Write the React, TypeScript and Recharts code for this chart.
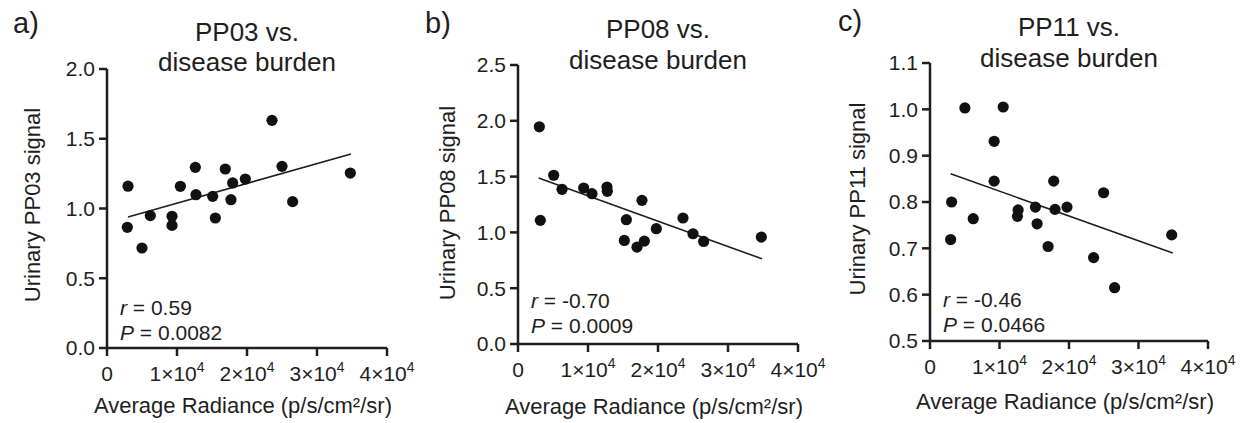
import React from "react";
import {
  ScatterChart,
  Scatter,
  XAxis,
  YAxis,
  ReferenceLine,
} from "recharts";

// radiance (p/s/cm²/sr) and urinary signal, one pair of arrays per panel
const radianceA = [3000, 2900, 5000, 6190, 9290, 9290, 10480, 12620, 12710, 15100, 15480, 16900, 17950, 17710, 19760, 23570, 25000, 26520, 34760];
const pp03 = [1.16, 0.865, 0.717, 0.949, 0.944, 0.879, 1.159, 1.295, 1.099, 1.087, 0.932, 1.283, 1.183, 1.063, 1.211, 1.632, 1.302, 1.049, 1.254];

const radianceB = [3050, 3190, 5100, 6290, 9380, 10570, 12710, 12760, 15190, 15480, 17000, 17710, 18050, 19760, 23570, 25000, 26520, 34760];
const pp08 = [1.946, 1.108, 1.512, 1.386, 1.398, 1.347, 1.407, 1.368, 0.928, 1.114, 0.868, 1.287, 0.922, 1.033, 1.129, 0.988, 0.919, 0.958];

const radianceC = [3110, 2970, 5020, 6220, 9230, 9230, 10530, 12680, 12580, 15170, 15410, 16990, 17800, 17990, 19710, 24980, 23540, 26560, 34780];
const pp11 = [0.8, 0.719, 1.003, 0.764, 0.931, 0.845, 1.005, 0.783, 0.769, 0.789, 0.753, 0.704, 0.845, 0.784, 0.789, 0.82, 0.68, 0.615, 0.729];

// regression line end points [x, y]
const fitA = [[3000, 0.939], [34860, 1.391]];
const fitB = [[2950, 1.488], [34860, 0.763]];
const fitC = [[2970, 0.861], [34930, 0.69]];

const xTicks = [0, 10000, 20000, 30000, 40000];
const yTicksA = [0, 0.5, 1.0, 1.5, 2.0];
const yTicksB = [0, 0.5, 1.0, 1.5, 2.0, 2.5];
const yTicksC = [0.5, 0.6, 0.7, 0.8, 0.9, 1.0, 1.1];

const FONT = "'Liberation Sans', Arial, Helvetica, sans-serif";
const INK = "#1e1e1e";

const XTick = ({ x, y, payload }: any) => {
  const v = payload.value;
  return (
    <text x={x} y={y} dy="0.71em" textAnchor="middle" fontSize={21} fill={INK} fontFamily={FONT}>
      {v === 0 ? (
        "0"
      ) : (
        <>
          {v / 10000}×10
          <tspan dy={-9} fontSize={14}>4</tspan>
        </>
      )}
    </text>
  );
};

const Dot = (props: any) => <circle cx={props.cx} cy={props.cy} r={5.6} fill="#111" />;

interface PanelProps {
  letter: string;
  title: string;
  yLabel: string;
  xs: number[];
  ys: number[];
  fit: number[][];
  yDomain: [number, number];
  yTicks: number[];
  r: string;
  p: string;
  plot: { l: number; r: number; t: number; b: number };
  letterPos: [number, number];
  titleY: [number, number];
  yLabelPos: [number, number];
  xLabelY: number;
  statY: [number, number];
}

function Panel(props: PanelProps) {
  const { plot } = props;
  const data = props.xs.map((x, i) => ({ x, y: props.ys[i] }));
  const mTop = 14;
  const yw = 90;
  const w = plot.r - plot.l + yw + 30;
  const h = plot.b - plot.t + mTop + 60;
  const cx = (plot.l + plot.r) / 2;
  const txt: React.CSSProperties = {
    position: "absolute",
    fontFamily: FONT,
    color: INK,
    lineHeight: 1,
    whiteSpace: "nowrap",
  };
  return (
    <>
      <div style={{ position: "absolute", left: plot.l - yw, top: plot.t - mTop }}>
        <ScatterChart width={w} height={h} margin={{ top: mTop, right: 30, bottom: 0, left: 0 }}>
          <XAxis
            type="number"
            dataKey="x"
            domain={[0, 40000]}
            ticks={xTicks}
            height={60}
            axisLine={{ stroke: INK, strokeWidth: 2.5 }}
            tickLine={{ stroke: INK, strokeWidth: 2.5 }}
            tickSize={8}
            tickMargin={10}
            tick={<XTick />}
          />
          <YAxis
            type="number"
            dataKey="y"
            domain={props.yDomain}
            ticks={props.yTicks}
            width={yw}
            axisLine={{ stroke: INK, strokeWidth: 2.5 }}
            tickLine={{ stroke: INK, strokeWidth: 2.5 }}
            tickSize={8}
            tickMargin={4}
            tickFormatter={(v: number) => v.toFixed(1)}
            tick={{ fill: INK, fontSize: 21, fontFamily: FONT }}
          />
          <ReferenceLine
            segment={[
              { x: props.fit[0][0], y: props.fit[0][1] },
              { x: props.fit[1][0], y: props.fit[1][1] },
            ]}
            stroke={INK}
            strokeWidth={1.6}
          />
          <Scatter data={data} shape={Dot} isAnimationActive={false} />
        </ScatterChart>
      </div>
      <div style={{ ...txt, left: props.letterPos[0], top: props.letterPos[1], fontSize: 29, transform: "translate(-50%,-50%)" }}>
        {props.letter}
      </div>
      <div style={{ ...txt, left: cx, top: props.titleY[0], fontSize: 26, transform: "translate(-50%,-50%)" }}>
        {props.title} vs.
      </div>
      <div style={{ ...txt, left: cx, top: props.titleY[1], fontSize: 26, transform: "translate(-50%,-50%)" }}>
        disease burden
      </div>
      <div
        style={{
          ...txt,
          left: props.yLabelPos[0],
          top: props.yLabelPos[1],
          fontSize: 22,
          transform: "translate(-50%,-50%) rotate(-90deg)",
        }}
      >
        {props.yLabel}
      </div>
      <div style={{ ...txt, left: cx - 4, top: props.xLabelY, fontSize: 22, transform: "translate(-50%,-50%)" }}>
        Average Radiance (p/s/cm²/sr)
      </div>
      <div style={{ ...txt, left: plot.l + 13, top: props.statY[0], fontSize: 21, transform: "translateY(-50%)" }}>
        <i>r</i> = {props.r}
      </div>
      <div style={{ ...txt, left: plot.l + 13, top: props.statY[1], fontSize: 21, transform: "translateY(-50%)" }}>
        <i>P</i> = {props.p}
      </div>
    </>
  );
}

export default function App() {
  return (
    <div style={{ position: "absolute", left: 0, top: 0, width: 1247, height: 423, background: "#fff", overflow: "hidden" }}>
      <Panel
        letter="a)"
        title="PP03"
        yLabel="Urinary PP03 signal"
        xs={radianceA}
        ys={pp03}
        fit={fitA}
        yDomain={[0, 2]}
        yTicks={yTicksA}
        r="0.59"
        p="0.0082"
        plot={{ l: 107, r: 387, t: 69, b: 348 }}
        letterPos={[26, 23]}
        titleY={[32, 62]}
        yLabelPos={[33, 205]}
        xLabelY={406}
        statY={[307, 332]}
      />
      <Panel
        letter="b)"
        title="PP08"
        yLabel="Urinary PP08 signal"
        xs={radianceB}
        ys={pp08}
        fit={fitB}
        yDomain={[0, 2.5]}
        yTicks={yTicksB}
        r="-0.70"
        p="0.0009"
        plot={{ l: 518, r: 798, t: 65, b: 344 }}
        letterPos={[438, 23]}
        titleY={[29, 60]}
        yLabelPos={[448, 203]}
        xLabelY={407}
        statY={[300, 325]}
      />
      <Panel
        letter="c)"
        title="PP11"
        yLabel="Urinary PP11 signal"
        xs={radianceC}
        ys={pp11}
        fit={fitC}
        yDomain={[0.5, 1.1]}
        yTicks={yTicksC}
        r="-0.46"
        p="0.0466"
        plot={{ l: 930, r: 1208, t: 63, b: 341 }}
        letterPos={[850, 21]}
        titleY={[27, 58]}
        yLabelPos={[858, 199]}
        xLabelY={402}
        statY={[299, 324]}
      />
    </div>
  );
}
